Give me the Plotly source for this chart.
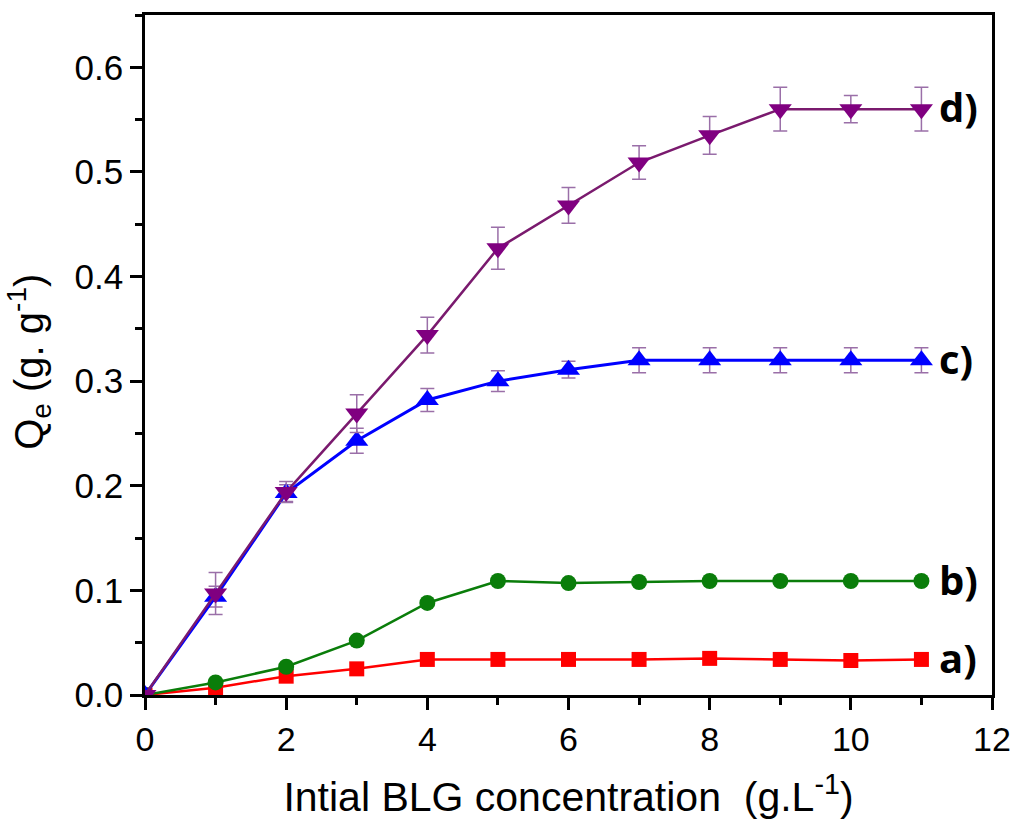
import plotly.graph_objects as go

x_vals = [0, 1, 2, 3, 4, 5, 6, 7, 8, 9, 10, 11]

# a) red squares
qe_a = [0.0, 0.007, 0.018, 0.025, 0.034, 0.034, 0.034, 0.034, 0.035, 0.034, 0.033, 0.034]
# b) green circles
qe_b = [0.0, 0.012, 0.027, 0.052, 0.088, 0.109, 0.107, 0.108, 0.109, 0.109, 0.109, 0.109]
# c) blue up-triangles
qe_c = [0.0, 0.094, 0.193, 0.243, 0.282, 0.300, 0.311, 0.320, 0.320, 0.320, 0.320, 0.320]
err_c = [0.0, 0.010, 0.008, 0.012, 0.011, 0.010, 0.008, 0.012, 0.012, 0.012, 0.012, 0.012]
# d) purple down-triangles
qe_d = [0.0, 0.097, 0.194, 0.269, 0.344, 0.427, 0.468, 0.509, 0.535, 0.560, 0.560, 0.560]
err_d = [0.0, 0.020, 0.010, 0.018, 0.017, 0.020, 0.017, 0.016, 0.018, 0.021, 0.013, 0.021]

labels = ["a)", "b)", "c)", "d)"]
label_y = [0.036, 0.110, 0.322, 0.563]

y_title = "Q<sub>e</sub> (g. g<sup>-1</sup>)"
x_title = "Intial BLG concentration\u00a0\u00a0(g.L<sup>-1</sup>)"

ERR_COLOR = "#9a6fa8"
FONT = "Liberation Sans, Arial, sans-serif"

fig = go.Figure()

fig.add_trace(go.Scatter(
    x=x_vals, y=qe_a, mode="lines+markers", name="a",
    line=dict(color="#ff0000", width=2.5),
    marker=dict(symbol="square", size=15, color="#ff0000"),
))
fig.add_trace(go.Scatter(
    x=x_vals, y=qe_b, mode="lines+markers", name="b",
    line=dict(color="#0a7d0a", width=2.5),
    marker=dict(symbol="circle", size=16, color="#0a7d0a"),
))
fig.add_trace(go.Scatter(
    x=x_vals, y=qe_c, mode="lines+markers", name="c",
    line=dict(color="#0000ff", width=3),
    marker=dict(symbol="triangle-up", size=20, color="#0000ff"),
    error_y=dict(type="data", array=err_c, visible=True, color=ERR_COLOR, thickness=1.5, width=7),
))
fig.add_trace(go.Scatter(
    x=x_vals, y=qe_d, mode="lines+markers", name="d",
    line=dict(color="#7a1a6e", width=2.5),
    marker=dict(symbol="triangle-down", size=20, color="#800080"),
    error_y=dict(type="data", array=err_d, visible=True, color=ERR_COLOR, thickness=1.5, width=7),
))

for lab, ly in zip(labels, label_y):
    fig.add_annotation(
        x=11.22, y=ly, xref="x", yref="y", text="<b>" + lab + "</b>",
        showarrow=False, xanchor="left", yanchor="middle",
        font=dict(family="Open Sans, sans-serif", size=40, color="black"),
    )

# y-axis title placed as a rotated annotation for precise positioning
fig.add_annotation(
    x=0, y=0.49, xref="paper", yref="paper", xshift=-116,
    text=y_title, textangle=-90, showarrow=False,
    xanchor="center", yanchor="middle",
    font=dict(family=FONT, size=40, color="black"),
)

fig.update_layout(
    width=1011, height=823,
    margin=dict(l=145, r=19, t=15, b=128, autoexpand=False),
    paper_bgcolor="white", plot_bgcolor="white",
    showlegend=False,
    font=dict(family=FONT, color="black"),
)

fig.update_xaxes(
    range=[0, 12], dtick=2, tick0=0, automargin=False,
    showline=True, linecolor="black", linewidth=2.5, mirror=True,
    ticks="outside", ticklen=12, tickwidth=2.5, tickcolor="black",
    minor=dict(dtick=1, ticks="outside", ticklen=7, tickwidth=2.5, tickcolor="black"),
    showgrid=False, zeroline=False, ticklabeloverflow="allow",
    tickfont=dict(family=FONT, size=34, color="black"),
    title=dict(text=x_title, font=dict(family=FONT, size=41, color="black"), standoff=26),
)
fig.update_yaxes(
    range=[0, 0.65], dtick=0.1, tick0=0, tickformat=".1f", automargin=False,
    showline=True, linecolor="black", linewidth=2.5, mirror=True,
    ticks="outside", ticklen=12, tickwidth=2.5, tickcolor="black",
    minor=dict(dtick=0.05, ticks="outside", ticklen=7, tickwidth=2.5, tickcolor="black"),
    showgrid=False, zeroline=False,
    tickfont=dict(family=FONT, size=35, color="black"),
)

fig.write_html("out.html")
